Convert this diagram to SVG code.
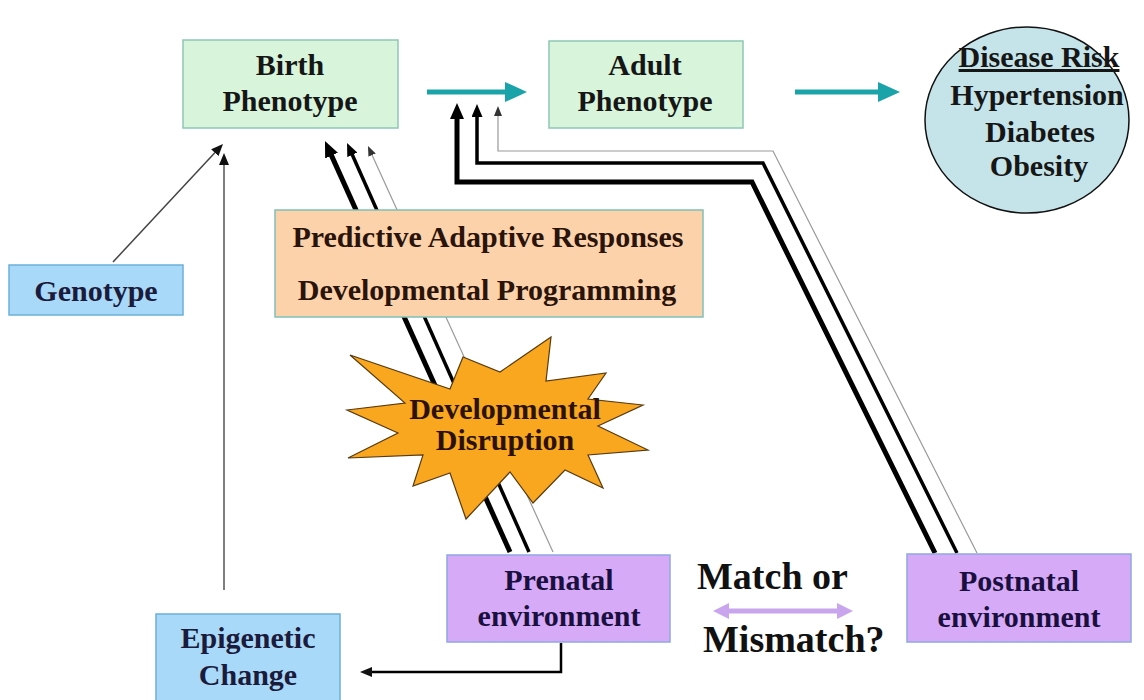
<svg xmlns="http://www.w3.org/2000/svg" width="1144" height="700" viewBox="0 0 1144 700">
<style>
.t{font-family:"Liberation Serif","Times New Roman",serif;font-weight:bold;font-size:30px;text-anchor:middle;fill:#161616}
.green{fill:#d8f5dc;stroke:#8cc7b6;stroke-width:1.5}
.blue{fill:#a9d9f8;stroke:#6cb0d8;stroke-width:1.5}
.lilac{fill:#d7aaf8;stroke:#8fa8e2;stroke-width:1.5}
.peach{fill:#fcd2ab;stroke:#80c0b8;stroke-width:1.5}
.k{fill:none;stroke:#000;stroke-linejoin:miter}
</style>
<defs>
<marker id="mThick" markerUnits="userSpaceOnUse" markerWidth="16" markerHeight="14" refX="3" refY="7" orient="auto"><path d="M0,0 L16,7 L0,14 z" fill="#000"/></marker>
<marker id="mMed" markerUnits="userSpaceOnUse" markerWidth="13" markerHeight="11" refX="2" refY="5.5" orient="auto"><path d="M0,0 L13,5.5 L0,11 z" fill="#000"/></marker>
<marker id="mThin" markerUnits="userSpaceOnUse" markerWidth="10" markerHeight="8" refX="1" refY="4" orient="auto"><path d="M0,0 L10,4 L0,8 z" fill="#333"/></marker>
<marker id="mSmall" markerUnits="userSpaceOnUse" markerWidth="12" markerHeight="10" refX="1" refY="5" orient="auto"><path d="M0,0 L12,5 L0,10 z" fill="#111"/></marker>
<marker id="mTeal" markerUnits="userSpaceOnUse" markerWidth="22" markerHeight="20" refX="2" refY="10" orient="auto"><path d="M0,0 L22,10 L0,20 z" fill="#1aa3a8"/></marker>
<marker id="mLilac" markerUnits="userSpaceOnUse" markerWidth="16" markerHeight="16" refX="2" refY="8" orient="auto-start-reverse"><path d="M0,0 L16,8 L0,16 z" fill="#c9a5ee"/></marker>
</defs>
<rect width="1144" height="700" fill="#fff"/>
<g id="connectors">
<line x1="427" y1="92" x2="507" y2="92" stroke="#1aa3a8" stroke-width="5" marker-end="url(#mTeal)"/>
<line x1="795" y1="92" x2="880" y2="92" stroke="#1aa3a8" stroke-width="5" marker-end="url(#mTeal)"/>
<line x1="113" y1="262" x2="215.5" y2="152" stroke="#444" stroke-width="1.5" marker-end="url(#mSmall)"/>
<line x1="224" y1="590" x2="224" y2="164" stroke="#555" stroke-width="1.5" marker-end="url(#mSmall)"/>
<path d="M561,643 V672 H371" class="k" stroke-width="2.5" marker-end="url(#mSmall)"/>
<line x1="510" y1="552" x2="330.3" y2="152.9" class="k" stroke-width="5" marker-end="url(#mThick)"/>
<line x1="529" y1="552" x2="351.5" y2="153" class="k" stroke-width="3.5" marker-end="url(#mMed)"/>
<line x1="553" y1="552" x2="371.7" y2="154.2" stroke="#999" stroke-width="1.2" marker-end="url(#mThin)"/>
<path d="M935,553 L752,182 H457 V116" class="k" stroke-width="5" marker-end="url(#mThick)"/>
<path d="M957,553 L763,163 H477 V115" class="k" stroke-width="3.5" marker-end="url(#mMed)"/>
<path d="M977,553 L773,151 H498 V115" fill="none" stroke="#999" stroke-width="1.2" marker-end="url(#mThin)"/>
<line x1="727" y1="611" x2="839" y2="611" stroke="#c9a5ee" stroke-width="5" marker-start="url(#mLilac)" marker-end="url(#mLilac)"/>
</g>
<g id="birth">
<rect x="183" y="40" width="215" height="88" class="green"/>
<text class="t" x="290" y="75">Birth</text>
<text class="t" x="290" y="111">Phenotype</text>
</g>
<g id="adult">
<rect x="549" y="41" width="194" height="87" class="green"/>
<text class="t" x="645" y="75">Adult</text>
<text class="t" x="645" y="111">Phenotype</text>
</g>
<g id="disease">
<ellipse cx="1027" cy="120" rx="102" ry="93" fill="#c4e4e9" stroke="#111" stroke-width="1.5"/>
<text class="t" x="1039" y="67" text-decoration="underline">Disease Risk</text>
<text class="t" x="1037" y="105">Hypertension</text>
<text class="t" x="1040" y="142">Diabetes</text>
<text class="t" x="1039" y="176">Obesity</text>
</g>
<g id="genotype">
<rect x="9" y="265" width="174" height="50" class="blue"/>
<text class="t" x="96" y="301" style="fill:#1b1b3c">Genotype</text>
</g>
<g id="predictive">
<rect x="275" y="210" width="428" height="107" class="peach"/>
<text class="t" x="488" y="247" style="fill:#2a1308">Predictive Adaptive Responses</text>
<text class="t" x="487" y="300" style="fill:#2a1308">Developmental Programming</text>
</g>
<g id="disruption">
<polygon points="350,355 450,389 463,357 500,372 551,337 546,381 606,373 588,399 643,405 598,426 648,450 588,455 603,488 565,470 533,503 510,472 466,519 450,473 413,486 423,455 348,458 398,433 347,410 405,403" fill="#f8a71e" stroke="#5a3a10" stroke-width="1.2" stroke-linejoin="miter"/>
<text class="t" x="505" y="419" style="fill:#2b1100">Developmental</text>
<text class="t" x="505" y="450" style="fill:#2b1100">Disruption</text>
</g>
<g id="prenatal">
<rect x="447" y="555" width="223" height="87" class="lilac"/>
<text class="t" x="559" y="590" style="fill:#1a1040">Prenatal</text>
<text class="t" x="559" y="626" style="fill:#1a1040">environment</text>
</g>
<g id="postnatal">
<rect x="907" y="554" width="224" height="88" class="lilac"/>
<text class="t" x="1019" y="591" style="fill:#1a1040">Postnatal</text>
<text class="t" x="1019" y="627" style="fill:#1a1040">environment</text>
</g>
<g id="match">
<text class="t" x="697" y="589" style="font-size:38px;text-anchor:start;fill:#111">Match or</text>
<text class="t" x="703" y="652" style="font-size:38px;text-anchor:start;fill:#111">Mismatch?</text>
</g>
<g id="epigenetic">
<rect x="156" y="614" width="184" height="90" class="blue"/>
<text class="t" x="248" y="648" style="fill:#1b1b3c">Epigenetic</text>
<text class="t" x="248" y="685" style="fill:#1b1b3c">Change</text>
</g>
</svg>
